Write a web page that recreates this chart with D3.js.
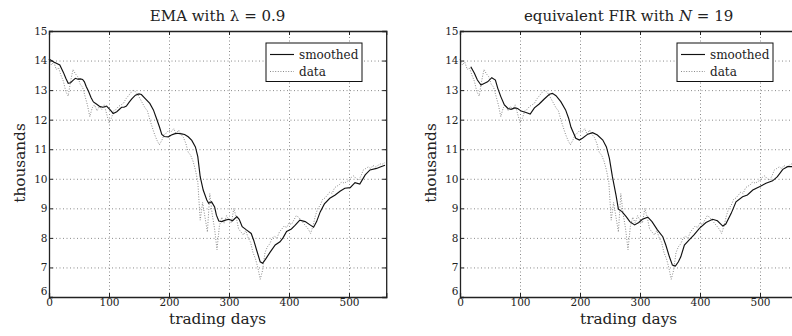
<!DOCTYPE html>
<html><head><meta charset="utf-8">
<script src="https://cdn.jsdelivr.net/npm/d3@7"></script>
<style>
body{margin:0;background:#fff;}
svg{display:block;font-family:"DejaVu Serif","Liberation Serif",serif;}
</style></head>
<body><svg id="c" width="792" height="336"></svg>
<script>
// ---- data ----
const xTicks = [0,100,200,300,400,500];
const yTicks = [6,7,8,9,10,11,12,13,14,15];
const titles = ["EMA with λ = 0.9", "equivalent FIR with N = 19"];
const legendLabels = ["smoothed","data"];

const dataDays = [0,4,8,12,16,20,24,28,32,36,40,44,48,52,56,60,64,68,72,76,80,84,88,92,96,100,104,108,112,116,120,124,128,132,136,140,144,148,152,156,160,164,168,172,176,180,184,188,192,196,200,204,208,212,216,220,224,228,232,236,240,244,248,252,256,260,264,268,272,276,280,284,288,292,296,300,304,308,312,316,320,324,328,332,336,340,344,348,352,356,360,364,368,372,376,380,384,388,392,396,400,404,408,412,416,420,424,428,432,436,440,444,448,452,456,460,464,468,472,476,480,484,488,492,496,500,504,508,512,516,520,524,528,532,536,540,544,548,552,556,560];
const dataVals = [14.05,13.85,13.95,13.7,13.75,13.5,13.3,12.95,12.8,13.3,13.7,13.55,13.45,13.2,13.1,12.8,12.5,12.1,12.4,12.5,12.3,12.45,12.35,12.5,12.2,11.9,12.05,12.3,12.35,12.45,12.5,12.55,12.7,12.8,12.9,13.0,12.95,12.85,12.7,12.55,12.4,12.3,12.0,11.75,11.5,11.3,11.15,11.3,11.5,11.55,11.65,11.6,11.7,11.5,11.65,11.5,11.4,11.2,10.9,10.8,10.6,10.3,9.9,8.6,9.2,8.7,8.2,9.5,8.8,8.3,7.6,8.4,8.7,8.5,8.75,8.6,8.5,9.0,8.7,8.3,8.2,8.1,8.25,8.0,7.85,7.5,7.3,7.0,6.6,6.9,7.5,7.7,7.8,8.0,8.05,8.0,8.2,8.3,8.4,8.35,8.5,8.45,8.6,8.75,8.7,8.6,8.5,8.4,8.3,8.15,8.4,8.75,9.0,9.1,9.3,9.35,9.45,9.55,9.5,9.7,9.75,9.8,9.9,9.85,9.9,9.95,10.05,10.1,10.0,9.95,10.1,10.3,10.35,10.4,10.35,10.45,10.4,10.45,10.5,10.5,10.55];

const emaDays = [0,4,8,13,18,24,28,32,36,40,44,48,52,56,59,62,66,70,74,79,85,90,96,102,107,113,121,125,129,134,138,144,150,154,160,168,174,179,184,188,192,199,204,209,213,221,226,232,238,244,248,252,257,263,266,271,276,279,283,288,294,300,306,313,317,322,329,337,341,346,352,356,361,368,377,385,390,396,404,410,418,427,435,441,446,452,459,468,477,485,493,502,510,518,527,535,546,552,560];
const emaVals = [14.05,14.0,13.95,13.9,13.85,13.6,13.4,13.23,13.25,13.33,13.4,13.37,13.38,13.36,13.28,13.12,12.95,12.75,12.6,12.53,12.44,12.42,12.46,12.33,12.21,12.27,12.42,12.42,12.46,12.6,12.7,12.83,12.87,12.85,12.72,12.55,12.33,12.05,11.76,11.5,11.43,11.42,11.48,11.52,11.54,11.52,11.5,11.42,11.3,11.08,10.75,10.07,9.62,9.28,9.17,9.22,9.05,8.77,8.57,8.55,8.6,8.63,8.58,8.72,8.63,8.38,8.27,8.15,7.93,7.59,7.19,7.14,7.28,7.5,7.76,7.87,8.0,8.22,8.3,8.42,8.6,8.55,8.44,8.36,8.55,8.88,9.15,9.34,9.45,9.58,9.68,9.7,9.87,9.82,10.13,10.3,10.35,10.4,10.46];

const firDays = [18,24,29,35,41,46,53,59,63,68,74,80,85,91,96,102,110,117,124,132,140,149,154,160,168,176,181,185,193,199,204,213,221,229,238,244,249,254,260,264,270,277,283,291,298,304,313,320,329,338,343,349,354,359,364,368,374,382,390,399,410,421,429,438,443,452,460,471,479,488,499,510,521,529,538,546,553,560];
const firVals = [13.79,13.57,13.34,13.17,13.23,13.28,13.42,13.34,13.06,12.78,12.5,12.38,12.35,12.4,12.38,12.29,12.24,12.19,12.4,12.53,12.69,12.86,12.89,12.81,12.61,12.33,12.05,11.74,11.37,11.31,11.37,11.51,11.56,11.48,11.31,11.08,10.69,10.07,9.45,8.97,8.89,8.72,8.55,8.44,8.52,8.63,8.7,8.55,8.27,8.04,7.76,7.36,7.08,7.05,7.19,7.36,7.76,7.93,8.1,8.32,8.52,8.63,8.58,8.4,8.47,8.83,9.22,9.39,9.45,9.62,9.73,9.85,9.93,10.07,10.32,10.41,10.41,10.42];

// ---- drawing ----
const FONT = '"DejaVu Serif","Liberation Serif",serif';
const svg = d3.select("#c");
const panels = [
  {x0:49, days:emaDays, vals:emaVals, title:0},
  {x0:460, days:firDays, vals:firVals, title:1}
];
const xMax = 562, pxPerDay = 0.6;
const yTop = 31, yBot = 297;

panels.forEach((p,i)=>{
  const x = d3.scaleLinear().domain([0,xMax]).range([p.x0, p.x0 + xMax*pxPerDay]);
  const y = d3.scaleLinear().domain([6,15]).range([yBot, yTop]);
  const g = svg.append("g");
  const w = x(xMax)-x(0), h = yBot-yTop;

  // grid
  g.append("g").attr("transform",`translate(0,${yBot})`)
    .call(d3.axisBottom(x).tickValues(xTicks.slice(1)).tickSize(-h).tickFormat(""))
    .call(s=>{s.select(".domain").remove(); s.selectAll("line").attr("stroke","#8a8a8a").attr("stroke-dasharray","1,2.5");});
  g.append("g").attr("transform",`translate(${x(0)},0)`)
    .call(d3.axisLeft(y).tickValues(yTicks.slice(1,-1)).tickSize(-w).tickFormat(""))
    .call(s=>{s.select(".domain").remove(); s.selectAll("line").attr("stroke","#8a8a8a").attr("stroke-dasharray","1,2.5");});

  // lines
  const line = d3.line().x(d=>x(d[0])).y(d=>y(d[1]));
  g.append("path").datum(dataDays.map((d,k)=>[d,dataVals[k]]))
    .attr("d",line).attr("fill","none").attr("stroke","#8a8a8a").attr("stroke-width",1)
    .attr("stroke-dasharray","1,1.6");
  g.append("path").datum(p.days.map((d,k)=>[d,p.vals[k]]))
    .attr("d",line).attr("fill","none").attr("stroke","#111").attr("stroke-width",1.15);

  // axes
  const ax = g.append("g").attr("transform",`translate(0,${yBot})`)
    .call(d3.axisBottom(x).tickValues(xTicks).tickSize(-4).tickPadding(1.5).tickFormat(d3.format("d")));
  const ay = g.append("g").attr("transform",`translate(${x(0)},0)`)
    .call(d3.axisLeft(y).tickValues(yTicks).tickSize(-4).tickPadding(1.5).tickFormat(d3.format("d")));
  const axT = g.append("g").attr("transform",`translate(0,${yTop})`)
    .call(d3.axisTop(x).tickValues(xTicks).tickSize(-4).tickFormat(""));
  const ayR = g.append("g").attr("transform",`translate(${x(xMax)},0)`)
    .call(d3.axisRight(y).tickValues(yTicks).tickSize(-4).tickFormat(""));
  [ax,ay,axT,ayR].forEach(a=>{
    a.attr("font-family",FONT).attr("font-size",10.5);
    a.selectAll(".domain").attr("stroke","#222").attr("stroke-width",1.3);
    a.selectAll("line").attr("stroke","#222");
    a.selectAll("text").attr("fill","#222");
  });
  ay.selectAll(".tick").filter(d=>d===6).select("text").attr("dy","-0.2em");

  // title
  const t = g.append("text").attr("x",(x(0)+x(xMax))/2).attr("y",21)
    .attr("text-anchor","middle").attr("font-size",15).attr("fill","#222");
  if(p.title===0){
    t.text(titles[0]);
  } else {
    t.append("tspan").text("equivalent FIR with ");
    t.append("tspan").attr("font-style","italic").text("N");
    t.append("tspan").text(" = 19");
  }

  // axis labels
  g.append("text").attr("x",(x(0)+x(xMax))/2).attr("y",324)
    .attr("text-anchor","middle").attr("font-size",15.3).attr("fill","#222").text("trading days");
  g.append("text").attr("transform",`translate(${x(0)-24.5},163) rotate(-90)`)
    .attr("text-anchor","middle").attr("font-size",15.3).attr("fill","#222").text("thousands");

  // legend
  const lx = x(0)+217, ly = 43;
  const lg = g.append("g");
  lg.append("rect").attr("x",lx).attr("y",ly).attr("width",96).attr("height",38.5)
    .attr("fill","#fff").attr("stroke","#111").attr("stroke-width",1);
  lg.append("line").attr("x1",lx+4).attr("x2",lx+28).attr("y1",ly+11.5).attr("y2",ly+11.5)
    .attr("stroke","#111").attr("stroke-width",1.15);
  lg.append("line").attr("x1",lx+4).attr("x2",lx+28).attr("y1",ly+28.5).attr("y2",ly+28.5)
    .attr("stroke","#8a8a8a").attr("stroke-dasharray","1,1.6");
  lg.append("text").attr("x",lx+33).attr("y",ly+16).attr("font-size",12).attr("fill","#222").text(legendLabels[0]);
  lg.append("text").attr("x",lx+33).attr("y",ly+33).attr("font-size",12).attr("fill","#222").text(legendLabels[1]);
});
</script></body></html>
